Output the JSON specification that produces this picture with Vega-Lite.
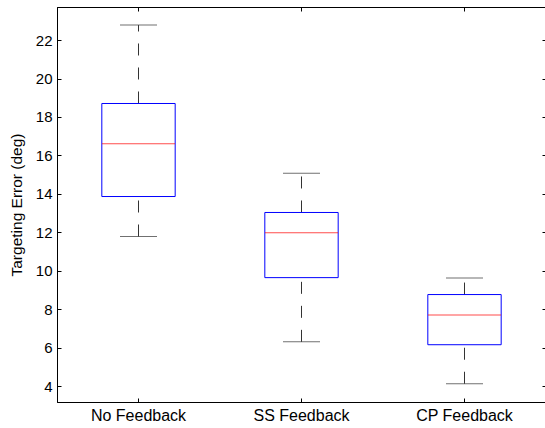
{
  "$schema": "https://vega.github.io/schema/vega-lite/v6.json",
  "width": 489,
  "height": 395,
  "autosize": "none",
  "padding": {"left": 57, "top": 7, "right": 0, "bottom": 26},
  "background": "white",
  "data": {"values": [
    {"group": "No Feedback", "min": 11.78, "q1": 13.86, "median": 16.6, "q3": 18.7, "max": 22.78},
    {"group": "SS Feedback", "min": 6.3, "q1": 9.64, "median": 11.97, "q3": 13.03, "max": 15.07},
    {"group": "CP Feedback", "min": 4.12, "q1": 6.15, "median": 7.7, "q3": 8.76, "max": 9.62}
  ]},
  "config": {
    "view": {"stroke": "#000", "strokeWidth": 1},
    "axis": {
      "labelFont": "Liberation Sans",
      "labelFontSize": 15,
      "labelColor": "#000",
      "titleFont": "Liberation Sans",
      "titleFontSize": 15.5,
      "titleFontWeight": "normal",
      "titleColor": "#000",
      "domainColor": "#000",
      "tickColor": "#000",
      "grid": false
    }
  },
  "resolve": {"axis": {"x": "independent", "y": "independent"}},
  "layer": [
    {
      "mark": {"type": "rule", "color": "#333", "strokeDash": [12, 12], "strokeWidth": 1},
      "encoding": {
        "x": {"field": "group", "type": "nominal", "sort": null, "scale": {"paddingInner": 0, "paddingOuter": 0},
              "axis": {"orient": "bottom", "title": null, "labelAngle": 0, "tickSize": -4, "labelPadding": 9, "labelFontSize": 16}},
        "y": {"field": "min", "type": "quantitative", "scale": {"domain": [3.17, 23.72], "nice": false, "zero": false},
              "axis": {"orient": "left", "title": "Targeting Error (deg)", "values": [4, 6, 8, 10, 12, 14, 16, 18, 20, 22], "tickSize": -4, "labelPadding": 9, "titlePadding": 11}},
        "y2": {"field": "q1"}
      }
    },
    {
      "mark": {"type": "rule", "color": "#333", "strokeDash": [12, 12], "strokeWidth": 1},
      "encoding": {
        "x": {"field": "group", "type": "nominal", "sort": null,
              "axis": {"orient": "top", "title": null, "labels": false, "labelAngle": 0, "tickSize": -4}},
        "y": {"field": "q3", "type": "quantitative",
              "axis": {"orient": "right", "title": null, "labels": false, "values": [4, 6, 8, 10, 12, 14, 16, 18, 20, 22], "tickSize": -4}},
        "y2": {"field": "max"}
      }
    },
    {
      "mark": {"type": "tick", "color": "#333", "size": 37, "thickness": 1},
      "encoding": {
        "x": {"field": "group", "type": "nominal", "sort": null, "axis": null},
        "y": {"field": "min", "type": "quantitative", "axis": null}
      }
    },
    {
      "mark": {"type": "tick", "color": "#333", "size": 37, "thickness": 1},
      "encoding": {
        "x": {"field": "group", "type": "nominal", "sort": null, "axis": null},
        "y": {"field": "max", "type": "quantitative", "axis": null}
      }
    },
    {
      "mark": {"type": "bar", "fill": "white", "fillOpacity": 0, "stroke": "#0000ff", "strokeWidth": 1, "width": {"band": 0.45}},
      "encoding": {
        "x": {"field": "group", "type": "nominal", "sort": null, "axis": null},
        "y": {"field": "q1", "type": "quantitative", "axis": null},
        "y2": {"field": "q3"}
      }
    },
    {
      "mark": {"type": "tick", "color": "#ff0000", "size": 73, "thickness": 1},
      "encoding": {
        "x": {"field": "group", "type": "nominal", "sort": null, "axis": null},
        "y": {"field": "median", "type": "quantitative", "axis": null}
      }
    }
  ]
}
